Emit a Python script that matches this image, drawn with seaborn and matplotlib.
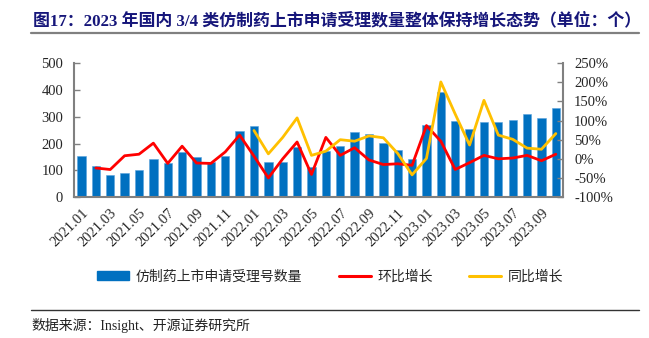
import numpy as np
import pandas as pd
import matplotlib
matplotlib.use("Agg")
import matplotlib.pyplot as plt
import seaborn as sns
from matplotlib.lines import Line2D
from matplotlib.patches import Patch

months = ["2021.01", "2021.02", "2021.03", "2021.04", "2021.05", "2021.06",
          "2021.07", "2021.08", "2021.09", "2021.10", "2021.11", "2021.12",
          "2022.01", "2022.02", "2022.03", "2022.04", "2022.05", "2022.06",
          "2022.07", "2022.08", "2022.09", "2022.10", "2022.11", "2022.12",
          "2023.01", "2023.02", "2023.03", "2023.04", "2023.05", "2023.06",
          "2023.07", "2023.08", "2023.09", "2023.10"]
counts = [153, 116, 84, 91, 102, 144, 126, 167, 148, 130, 153, 248,
          265, 131, 131, 188, 111, 173, 189, 244, 237, 201, 174, 144,
          269, 393, 284, 256, 280, 280, 286, 312, 296, 333]
mom = [np.nan, -24, -28, 8, 12, 41, -12, 33, -11, -12, 18, 62,
       7, -50, 0, 44, -41, 56, 9, 29, -3, -15, -13, -17,
       87, 46, -28, -10, 9, 0, 2, 9, -5, 12]
yoy = [np.nan] * 12 + [74, 13, 56, 107, 9, 20, 50, 46, 60, 55, 14, -42,
                       1, 201, 117, 36, 153, 62, 51, 28, 25, 66]

bar_label = "仿制药上市申请受理号数量"
mom_label = "环比增长"
yoy_label = "同比增长"
title = "图17：2023 年国内 3/4 类仿制药上市申请受理数量整体保持增长态势（单位：个）"
source = "数据来源：Insight、开源证券研究所"

df = pd.DataFrame({"month": months, "count": counts, "mom": mom, "yoy": yoy})
df["pos"] = np.arange(len(df))

sns.set_style("white")
plt.rcParams["font.family"] = ["Liberation Serif", "Noto Sans CJK SC", "DejaVu Sans"]

BLUE = "#0070C0"
RED = "#FF0000"
YELLOW = "#FFC000"
GREY = "#808080"

fig = plt.figure(figsize=(6.49, 3.38), dpi=100)
ax = fig.add_axes([0.1145, 0.417, 0.753, 0.396])

sns.barplot(data=df, x="month", y="count", color=BLUE, width=0.58,
            saturation=1, ax=ax, edgecolor="#5BA3DC", linewidth=0.4)
ax.set_xlim(-0.5, len(df) - 0.5)
ax.set_ylim(0, 500)
ax.set_yticks([0, 100, 200, 300, 400, 500])
ax.set_xlabel("")
ax.set_ylabel("")

ax2 = ax.twinx()
sns.lineplot(data=df, x="pos", y="mom", color=RED, linewidth=2.0, ax=ax2)
sns.lineplot(data=df, x="pos", y="yoy", color=YELLOW, linewidth=2.0, ax=ax2)
ax2.set_ylim(-100, 250)
ax2.set_yticks(np.arange(-100, 251, 50))
ax2.set_yticklabels([f"{v}%" for v in range(-100, 251, 50)])
ax2.set_xlim(-0.5, len(df) - 0.5)
ax2.set_xlabel("")
ax2.set_ylabel("")

# x ticks: labels every 2 months, small inward ticks between bars
ax.set_xticks(np.arange(0, len(df), 2))
ax.set_xticklabels(months[::2], rotation=45, ha="right", rotation_mode="anchor")
ax.set_xticks(np.arange(-0.5, len(df), 1), minor=True)
ax.tick_params(axis="x", which="major", length=0, labelsize=10.5, pad=7)
ax.tick_params(axis="x", which="minor", length=3.5, direction="in", color=GREY, width=1)
ax.tick_params(axis="y", length=4, direction="in", color=GREY, width=1, labelsize=10.5, pad=8)
ax2.tick_params(axis="y", length=4, direction="in", color=GREY, width=1, labelsize=10.5, pad=8)

ax.spines["top"].set_visible(False)
ax2.spines["top"].set_visible(False)
ax.spines["right"].set_visible(False)
ax2.spines["left"].set_visible(False)
ax.spines["left"].set_color(GREY)
ax.spines["left"].set_linewidth(1.5)
ax.spines["bottom"].set_color(GREY)
ax.spines["bottom"].set_linewidth(1.5)
ax2.spines["right"].set_color(GREY)
ax2.spines["right"].set_linewidth(1.5)
ax2.spines["bottom"].set_visible(False)

cjk = ["Noto Sans CJK SC", "DejaVu Sans"]
handles = [Patch(facecolor=BLUE, edgecolor=BLUE),
           Line2D([0], [0], color=RED, lw=2.2),
           Line2D([0], [0], color=YELLOW, lw=2.2)]
leg = fig.legend(handles, [bar_label, mom_label, yoy_label], loc="center",
                 bbox_to_anchor=(0.509, 0.182), ncol=3, frameon=False,
                 prop={"family": cjk, "size": 10}, handlelength=2.3,
                 handleheight=0.55, columnspacing=2.6, handletextpad=0.5)

fig.text(0.051, 0.938, title, ha="left", va="center", fontsize=12.2,
         fontweight="bold", color="#16167A",
         family=["Liberation Serif", "Noto Sans CJK SC", "DejaVu Sans"])
fig.add_artist(Line2D([0.047, 0.985], [0.902, 0.902], color=GREY, lw=1.6,
                      transform=fig.transFigure))
fig.add_artist(Line2D([0.047, 0.985], [0.083, 0.083], color="#333333", lw=1.0,
                      transform=fig.transFigure))
fig.text(0.049, 0.038, source, ha="left", va="center", fontsize=10,
         color="#222222", family=["Liberation Serif", "Noto Sans CJK SC", "DejaVu Sans"])

fig.savefig("out.png", dpi=100)
